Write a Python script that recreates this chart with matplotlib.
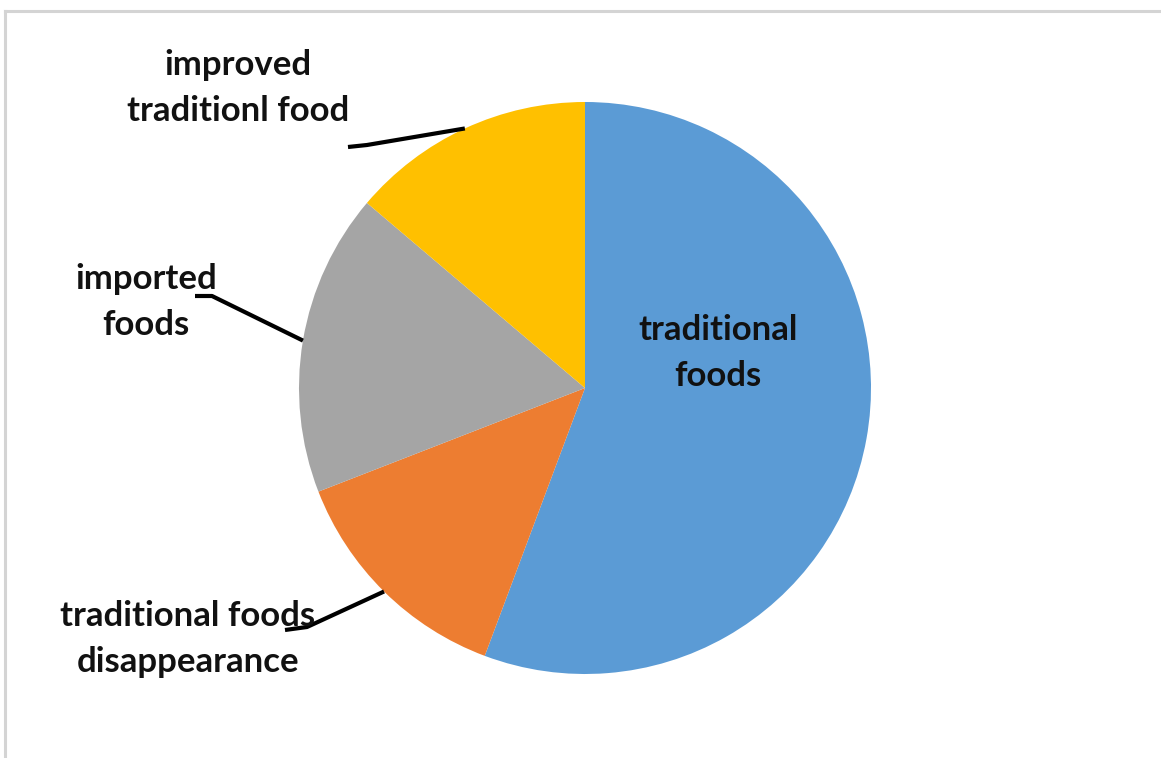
import matplotlib
matplotlib.use('Agg')
import matplotlib.pyplot as plt
from matplotlib.lines import Line2D
import numpy as np

labels = ['traditional\nfoods', 'traditional foods\ndisappearance', 'imported\nfoods', 'improved\ntraditionl food']
shares = [55.7, 13.4, 17.1, 13.8]
colors = ['#5B9BD5', '#ED7D31', '#A5A5A5', '#FFC000']

W, H = 1161, 758
cx, cy, r = 585, 388, 286  # pie centre / radius in pixels

def px(x, y):
    # pixel (from top-left) -> data units of the pie
    return (x - cx) / r, (cy - y) / r

plt.rcParams['font.family'] = ['Lato', 'DejaVu Sans']

fig = plt.figure(figsize=(W / 100, H / 100), dpi=100)
ax = fig.add_axes([0, 0, 1, 1])
wedges, _ = ax.pie(shares, colors=colors, startangle=90, counterclock=False,
                   radius=1, wedgeprops=dict(linewidth=0))
ax.set_xlim(-cx / r, (W - cx) / r)
ax.set_ylim(-(H - cy) / r, cy / r)
ax.set_aspect('auto')
ax.axis('off')

fs = 25
# label placement (text centre, leader start, leader knee) in pixels
label_pos = [(718, 353), (188, 639), (146, 302), (238, 88)]
leader = [None, ((285, 630), (307, 627)), ((195, 296), (212, 296)), ((348, 147), (367, 145))]

for i, w in enumerate(wedges):
    tx, ty = px(*label_pos[i])
    ax.text(tx, ty, labels[i], ha='center', va='center', fontsize=fs,
            fontweight='bold', color='#111111', linespacing=1.55)
    if leader[i] is not None:
        mid = np.deg2rad((w.theta1 + w.theta2) / 2)
        ex, ey = np.cos(mid), np.sin(mid)
        (sx, sy), (kx, ky) = px(*leader[i][0]), px(*leader[i][1])
        ax.plot([sx, kx, ex], [sy, ky, ey], color='black', lw=3,
                solid_capstyle='butt', solid_joinstyle='round')

# light frame on top and left edge
fig.add_artist(Line2D([5 / W, 1], [1 - 11 / H, 1 - 11 / H], color='#d4d4d4', lw=2.2))
fig.add_artist(Line2D([5 / W, 5 / W], [0, 1 - 11 / H], color='#d4d4d4', lw=2.2))

fig.savefig('out.png', dpi=100, facecolor='white')
